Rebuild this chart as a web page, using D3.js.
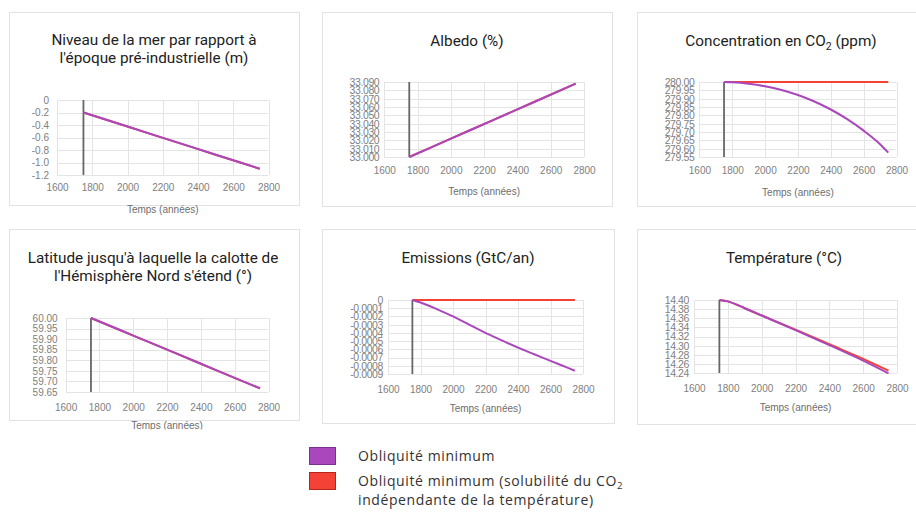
<!DOCTYPE html>
<html>
<head>
<meta charset="utf-8">
<script src="https://cdn.jsdelivr.net/npm/d3@7"></script>
<style>
  html, body { margin: 0; padding: 0; background: #fff; }
  svg { display: block; }
  .tick text { font-family: "Liberation Sans", Arial, sans-serif; }
</style>
</head>
<body>
<svg id="chart" width="916" height="512"></svg>
<script>
// ---- Data ----------------------------------------------------------------
const xTickYears = [1600, 1800, 2000, 2200, 2400, 2600, 2800];
const markerYear = 1750;

// Sea level relative to pre-industrial (m)
const seaYears = [1750, 2000, 2250, 2500, 2750];
const seaMin = [-0.2, -0.425, -0.65, -0.875, -1.1];
const seaMinFixedCO2 = [-0.2, -0.425, -0.65, -0.875, -1.1];
const seaTicks = [0, -0.2, -0.4, -0.6, -0.8, -1.0, -1.2];
const seaTickLabels = ["0", "-0.2", "-0.4", "-0.6", "-0.8", "-1.0", "-1.2"];

// Albedo (%)
const albedoYears = [1750, 2000, 2250, 2500, 2750];
const albedoMin = [33.000, 33.022, 33.044, 33.066, 33.088];
const albedoMinFixedCO2 = [33.000, 33.022, 33.044, 33.066, 33.088];
const albedoTicks = [33.00, 33.01, 33.02, 33.03, 33.04, 33.05, 33.06, 33.07, 33.08, 33.09];
const albedoTickLabels = ["33.000", "33.010", "33.020", "33.030", "33.040", "33.050", "33.060", "33.070", "33.080", "33.090"];

// CO2 concentration (ppm)
const co2Years = [1750, 1800, 1900, 2000, 2100, 2200, 2300, 2400, 2500, 2600, 2700, 2750];
const co2Min = [280.0, 279.998, 279.989, 279.974, 279.952, 279.922, 279.883, 279.835, 279.777, 279.708, 279.627, 279.576];
const co2MinFixedCO2 = [280.0, 280.0, 280.0, 280.0, 280.0, 280.0, 280.0, 280.0, 280.0, 280.0, 280.0, 280.0];
const co2Ticks = [279.55, 279.60, 279.65, 279.70, 279.75, 279.80, 279.85, 279.90, 279.95, 280.00];
const co2TickLabels = ["279.55", "279.60", "279.65", "279.70", "279.75", "279.80", "279.85", "279.90", "279.95", "280.00"];

// Northern ice-cap latitude (°)
const latYears = [1750, 2000, 2250, 2500, 2750];
const latMin = [60.00, 59.917, 59.834, 59.75, 59.667];
const latMinFixedCO2 = [60.00, 59.917, 59.834, 59.75, 59.667];
const latTicks = [59.65, 59.70, 59.75, 59.80, 59.85, 59.90, 59.95, 60.00];
const latTickLabels = ["59.65", "59.70", "59.75", "59.80", "59.85", "59.90", "59.95", "60.00"];

// Emissions (GtC/yr)
const emiYears = [1750, 1800, 1900, 2000, 2100, 2200, 2300, 2400, 2500, 2600, 2700, 2750];
const emiMin = [0, -0.00003, -0.00011, -0.0002, -0.0003, -0.0004, -0.00049, -0.00058, -0.00066, -0.00074, -0.00082, -0.00086];
const emiMinFixedCO2 = [0, 0, 0, 0, 0, 0, 0, 0, 0, 0, 0, 0];
const emiTicks = [0, -0.0001, -0.0002, -0.0003, -0.0004, -0.0005, -0.0006, -0.0007, -0.0008, -0.0009];
const emiTickLabels = ["0", "-0.0001", "-0.0002", "-0.0003", "-0.0004", "-0.0005", "-0.0006", "-0.0007", "-0.0008", "-0.0009"];

// Temperature (°C)
const tempYears = [1750, 1800, 1900, 2000, 2200, 2400, 2600, 2750];
const tempMin = [14.40, 14.397, 14.382, 14.366, 14.334, 14.301, 14.267, 14.239];
const tempMinFixedCO2 = [14.40, 14.397, 14.382, 14.366, 14.335, 14.303, 14.271, 14.245];
const tempTicks = [14.24, 14.26, 14.28, 14.30, 14.32, 14.34, 14.36, 14.38, 14.40];
const tempTickLabels = ["14.24", "14.26", "14.28", "14.30", "14.32", "14.34", "14.36", "14.38", "14.40"];

const seriesNames = [
  ["Obliquité minimum"],
  ["Obliquité minimum (solubilité du CO", "2", "", "indépendante de la température)"]
];

// ---- Layout & styles -----------------------------------------------------
const COLOR_MIN = "#ab47bc";
const COLOR_FIXED = "#f44336";
const GRID = "#e4e4e4";
const BORDER = "#e2e2e2";
const TICK_COLOR = "#808080";
const TITLE_COLOR = "#222";
const AXIS_TITLE = "Temps (années)";

const panels = [
  { title: [["Niveau de la mer par rapport à"], ["l'époque pré-industrielle (m)"]],
    years: seaYears, a: seaMin, b: seaMinFixedCO2, ticks: seaTicks, labels: seaTickLabels,
    box: [9, 12, 290, 193], px: [57, 268.5], py: [100, 175], titleX: 154, titleY: [45, 63],
    xLabelY: 191, xTitleY: 213 },
  { title: [["Albedo (%)"]],
    years: albedoYears, a: albedoMin, b: albedoMinFixedCO2, ticks: albedoTicks, labels: albedoTickLabels,
    box: [322, 12, 290, 194], px: [384.3, 584], py: [82, 157], titleX: 467, titleY: [46],
    xLabelY: 174, xTitleY: 195 },
  { title: [["Concentration en CO", "2", " (ppm)"]],
    years: co2Years, a: co2Min, b: co2MinFixedCO2, ticks: co2Ticks, labels: co2TickLabels,
    box: [637, 12, 290, 194], px: [699.4, 896.5], py: [82, 157], titleX: 781, titleY: [46],
    xLabelY: 174, xTitleY: 196 },
  { title: [["Latitude jusqu'à laquelle la calotte de"], ["l'Hémisphère Nord s'étend (°)"]],
    years: latYears, a: latMin, b: latMinFixedCO2, ticks: latTicks, labels: latTickLabels,
    box: [9, 229, 290, 191], px: [65.6, 268.5], py: [318, 392], titleX: 153, titleY: [263, 281],
    xLabelY: 411, xTitleY: 429, clipBottom: 429.5 },
  { title: [["Emissions (GtC/an)"]],
    years: emiYears, a: emiMin, b: emiMinFixedCO2, ticks: emiTicks, labels: emiTickLabels,
    box: [322, 229, 292, 194], px: [388, 583], py: [300, 374], titleX: 468, titleY: [263],
    xLabelY: 393, xTitleY: 412 },
  { title: [["Température (°C)"]],
    years: tempYears, a: tempMin, b: tempMinFixedCO2, ticks: tempTicks, labels: tempTickLabels,
    box: [637, 229, 290, 195], px: [694, 897], py: [300, 373], titleX: 784, titleY: [263],
    xLabelY: 392, xTitleY: 411 }
];

const svg = d3.select("#chart");

panels.forEach((p, i) => {
  let g = svg.append("g");
  if (p.clipBottom) {
    const id = "clip" + i;
    svg.append("clipPath").attr("id", id)
      .append("rect").attr("x", 0).attr("y", 0).attr("width", 916).attr("height", p.clipBottom);
    g.attr("clip-path", `url(#${id})`);
  }

  // panel frame
  g.append("rect")
    .attr("x", p.box[0] + 0.5).attr("y", p.box[1] + 0.5)
    .attr("width", p.box[2]).attr("height", p.box[3])
    .attr("fill", "#fff").attr("stroke", BORDER).attr("stroke-width", 1);

  // title (supports subscript segments)
  p.title.forEach((line, li) => {
    const t = g.append("text")
      .attr("x", p.titleX).attr("y", p.titleY[li])
      .attr("text-anchor", "middle")
      .attr("font-family", "Roboto, 'Noto Sans', sans-serif")
      .attr("font-size", 15.3).attr("fill", TITLE_COLOR);
    line.forEach((seg, si) => {
      const ts = t.append("tspan").text(seg);
      if (si === 1) ts.attr("font-size", 10.5).attr("dy", 4);
      if (si === 2) ts.attr("dy", -4);
    });
  });

  const x = d3.scaleLinear().domain([1600, 2800]).range(p.px);
  const y = d3.scaleLinear()
    .domain([d3.min(p.ticks), d3.max(p.ticks)])
    .range([p.py[1], p.py[0]]);

  // gridlines
  g.append("g").selectAll("line.h").data(p.ticks).join("line")
    .attr("x1", p.px[0]).attr("x2", p.px[1])
    .attr("y1", d => Math.round(y(d)) + 0.5).attr("y2", d => Math.round(y(d)) + 0.5)
    .attr("stroke", GRID).attr("stroke-width", 1);
  g.append("g").selectAll("line.v").data(xTickYears).join("line")
    .attr("x1", d => Math.round(x(d)) + 0.5).attr("x2", d => Math.round(x(d)) + 0.5)
    .attr("y1", p.py[0]).attr("y2", p.py[1])
    .attr("stroke", GRID).attr("stroke-width", 1);

  // y axis labels
  const crowded = p.ticks.length > 8;
  const yAxis = d3.axisLeft(y).tickValues(p.ticks)
    .tickFormat((d, k) => p.labels[k]).tickSize(0).tickPadding(0);
  const ya = g.append("g").attr("transform", `translate(${p.px[0] - (crowded ? 5 : 8)},0)`).call(yAxis);
  ya.select(".domain").remove();
  ya.selectAll("text").attr("font-size", crowded ? 10.5 : 10).attr("fill", TICK_COLOR)
    .attr("letter-spacing", crowded ? -0.4 : 0);

  // x axis labels
  const xAxis = d3.axisBottom(x).tickValues(xTickYears).tickFormat(d3.format("d")).tickSize(0).tickPadding(0);
  const xa = g.append("g").attr("transform", `translate(0,${p.xLabelY - 8})`).call(xAxis);
  xa.select(".domain").remove();
  xa.selectAll("text").attr("font-size", 10).attr("fill", TICK_COLOR).attr("dy", 0).attr("y", 8);

  g.append("text")
    .attr("x", (p.px[0] + p.px[1]) / 2).attr("y", p.xTitleY)
    .attr("text-anchor", "middle")
    .attr("font-family", "'Liberation Sans', Arial, sans-serif")
    .attr("font-size", 10).attr("fill", "#6e6e6e")
    .text(AXIS_TITLE);

  // marker line at the start of the run
  g.append("line")
    .attr("x1", x(markerYear)).attr("x2", x(markerYear))
    .attr("y1", p.py[0]).attr("y2", p.py[1])
    .attr("stroke", "#666").attr("stroke-width", 1.8);

  // series
  const line = d3.line().x(d => x(d[0])).y(d => y(d[1])).curve(d3.curveMonotoneX);
  g.append("path").datum(d3.zip(p.years, p.b))
    .attr("d", line).attr("fill", "none").attr("stroke", COLOR_FIXED).attr("stroke-width", 2);
  g.append("path").datum(d3.zip(p.years, p.a))
    .attr("d", line).attr("fill", "none").attr("stroke", COLOR_MIN).attr("stroke-width", 2);
});

// ---- Legend --------------------------------------------------------------
const legend = svg.append("g");
const legendItems = [
  { color: COLOR_MIN, border: "#7d2f8e", y: 447, lines: [seriesNames[0]] },
  { color: COLOR_FIXED, border: "#b3261e", y: 472, lines: [seriesNames[1].slice(0, 2), [seriesNames[1][3]]] }
];
legendItems.forEach(item => {
  legend.append("rect")
    .attr("x", 309.5).attr("y", item.y + 0.5).attr("width", 26).attr("height", 17)
    .attr("fill", item.color).attr("stroke", item.border).attr("stroke-width", 1);
  item.lines.forEach((segs, li) => {
    const t = legend.append("text")
      .attr("x", 358).attr("y", item.y + 14 + li * 19)
      .attr("font-family", "'Open Sans', sans-serif")
      .attr("font-size", 14).attr("letter-spacing", 0.6).attr("fill", "#333");
    segs.forEach((seg, si) => {
      const ts = t.append("tspan").text(seg);
      if (si === 1) ts.attr("font-size", 9.5).attr("dy", 3);
    });
  });
});
</script>
</body>
</html>
